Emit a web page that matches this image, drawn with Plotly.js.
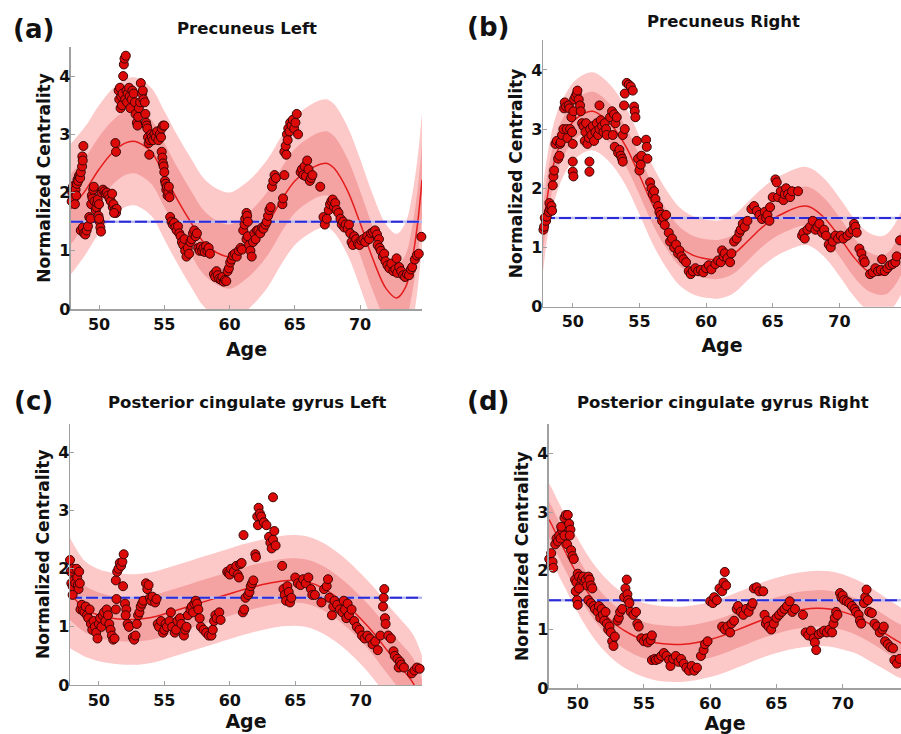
<!DOCTYPE html>
<html>
<head>
<meta charset="utf-8">
<script src="https://cdn.plot.ly/plotly-3.0.1.min.js"></script>
<style>html,body{margin:0;padding:0;background:#fff;}#chart{width:901px;height:734px;}</style>
</head>
<body>
<div id="chart"></div>
<script>
// ---------------- DATA ----------------
const panelLetters = ['(a)', '(b)', '(c)', '(d)'];
const panelTitles = ['Precuneus Left', 'Precuneus Right', 'Posterior cingulate gyrus Left', 'Posterior cingulate gyrus Right'];
const xTicks = [50, 55, 60, 65, 70];
const yTicks = [0, 1, 2, 3, 4];
const refLevel = 1.5;

// (a) Precuneus Left - fitted curve
const curveAgeA = [47.85, 48, 48.5, 49, 50, 51, 52, 52.6, 53, 54, 55, 56, 57, 58, 59, 60, 61, 62, 63, 64, 65, 66, 67, 67.5, 68, 69, 70, 71, 72, 72.8, 73.5, 74, 74.4, 74.75];
const meanA =     [1.72, 1.76, 1.9, 2.05, 2.4, 2.68, 2.85, 2.88, 2.86, 2.7, 2.3, 1.88, 1.5, 1.15, 0.97, 0.9, 1.02, 1.22, 1.5, 1.88, 2.2, 2.38, 2.49, 2.5, 2.42, 2.05, 1.48, 0.85, 0.35, 0.19, 0.38, 0.85, 1.45, 2.22];
const innerA =    [0.6, 0.6, 0.58, 0.57, 0.56, 0.55, 0.55, 0.55, 0.55, 0.55, 0.55, 0.55, 0.55, 0.55, 0.55, 0.55, 0.55, 0.55, 0.55, 0.55, 0.55, 0.55, 0.55, 0.55, 0.55, 0.55, 0.55, 0.55, 0.55, 0.55, 0.56, 0.57, 0.58, 0.6];
const outerA =    [1.12, 1.12, 1.11, 1.1, 1.1, 1.1, 1.1, 1.1, 1.1, 1.1, 1.1, 1.1, 1.1, 1.1, 1.1, 1.1, 1.1, 1.1, 1.1, 1.1, 1.1, 1.1, 1.1, 1.1, 1.1, 1.1, 1.1, 1.1, 1.1, 1.1, 1.11, 1.12, 1.13, 1.15];
const pointsA = [
 [47.9,1.85],[47.95,2.0],[48.0,2.1],[48.05,1.9],[48.1,2.12],[48.15,1.8],[48.2,2.05],[48.25,1.95],[48.3,2.15],[48.35,2.22],[48.4,2.2],[48.45,2.28],[48.5,2.3],[48.55,2.25],[48.6,2.35],[48.7,2.45],[48.72,2.62],[48.8,2.8],[48.75,2.55],
 [48.6,1.35],[48.75,1.4],[48.85,1.3],[48.95,1.28],[49.05,1.35],[49.15,1.42],[49.25,1.58],[49.35,1.55],
 [49.4,1.8],[49.45,1.95],[49.5,1.9],[49.55,2.05],[49.6,2.1],[49.65,1.85],[49.75,1.7],[49.8,1.75],[49.85,1.82],[49.9,1.88],[49.95,1.6],[50.05,1.5],[50.1,1.4],[50.15,1.33],[50.0,1.8],[50.0,1.55],
 [50.2,2.0],[50.3,2.05],[50.4,2.02],[50.5,1.98],[50.6,2.0],[50.7,1.95],[50.8,1.9],[50.9,1.85],[51.0,1.98],[51.05,1.75],[51.1,1.8],[51.2,1.7],[51.3,1.65],[51.35,1.72],[51.15,1.65],
 [51.25,2.85],[51.3,2.7],
 [51.5,3.75],[51.55,3.6],[51.6,3.8],[51.65,3.45],[51.7,3.65],[51.75,3.5],[51.8,3.7],[51.85,4.0],[51.9,4.2],[51.95,4.3],[52.05,4.35],[52.0,3.6],[52.1,3.75],[52.15,3.55],[52.2,3.7],[52.3,3.8],[52.35,3.65],[52.4,3.45],[52.5,3.6],[52.55,3.75],[52.65,3.7],[52.75,3.55],[52.8,3.35],[52.9,3.2],[52.95,3.15],[53.0,3.3],[53.05,3.45],[53.15,3.55],[53.2,3.88],[53.3,3.7],[53.35,3.75],[53.4,3.6],[53.5,3.55],[53.55,3.35],[53.6,3.2],[53.65,3.15],[53.7,3.1],[53.75,2.95],[53.8,2.85],[53.85,2.65],
 [53.9,2.9],[54.0,3.0],[54.05,2.95],[54.15,2.9],[54.25,3.0],[54.35,2.95],[54.45,3.05],[54.55,2.9],[54.65,3.0],[54.75,2.95],[54.8,3.1],[54.9,3.15],[55.0,3.15],
 [54.8,2.7],[54.85,2.6],[54.9,2.5],[54.95,2.45],[55.0,2.35],[55.05,2.2],[55.1,2.15],[55.15,2.05],[55.2,2.1],[55.25,1.95],[55.3,2.0],[55.35,2.1],[55.4,1.92],
 [55.45,1.58],[55.55,1.5],[55.65,1.45],[55.75,1.48],[55.85,1.4],[55.95,1.35],[56.05,1.42],[56.15,1.3],
 [56.25,1.25],[56.35,1.15],[56.45,1.1],[56.55,1.2],[56.6,1.0],[56.7,0.9],[56.8,1.05],[56.9,0.95],[57.0,1.15],[57.1,1.2],[57.2,1.3],
 [57.3,1.35],[57.4,1.25],[57.5,1.3],
 [57.6,1.05],[57.7,1.0],[57.8,1.07],[57.9,1.0],[58.0,1.05],[58.1,0.98],[58.2,1.08],[58.3,1.0],[58.4,1.05],[58.5,0.95],
 [58.8,0.6],[58.9,0.55],[59.0,0.65],[59.1,0.58],[59.2,0.52],
 [59.35,0.5],[59.45,0.55],[59.55,0.47],[59.65,0.5],[59.75,0.48],
 [59.85,0.65],[59.95,0.7],[60.05,0.8],[60.15,0.85],
 [60.25,0.92],[60.4,0.95],[60.55,0.9],[60.7,1.0],[60.85,1.05],[60.95,1.02],
 [61.05,1.35],[61.15,1.45],[61.2,1.55],[61.3,1.65],[61.35,1.6],[61.4,1.5],
 [61.3,1.2],[61.4,1.25],[61.5,1.1],[61.6,1.0],[61.7,0.9],[61.8,1.15],[61.9,1.3],[62.0,1.2],[62.1,1.35],
 [62.2,1.35],[62.35,1.3],[62.5,1.4],[62.6,1.38],[62.75,1.45],
 [62.85,1.5],[62.95,1.6],[63.05,1.7],[63.15,1.75],
 [63.25,2.1],[63.35,2.2],[63.45,2.3],[63.55,2.25],
 [64.05,1.8],[64.1,1.9],[64.2,2.3],
 [64.2,2.7],[64.3,2.8],[64.35,2.65],[64.4,3.0],[64.45,2.9],[64.5,3.1],[64.6,3.05],[64.65,3.2],[64.75,3.15],[64.85,3.25],[64.95,3.1],[65.05,3.2],[65.15,3.35],[65.25,3.0],
 [65.45,2.35],[65.55,2.4],[65.65,2.3],[65.75,2.45],[65.85,2.28],[65.95,2.55],[66.05,2.4],[66.15,2.2],[66.25,2.25],[66.35,2.3],
 [66.95,2.1],
 [67.2,1.58],[67.3,1.45],[67.45,1.55],
 [67.6,1.7],[67.7,1.8],[67.8,1.85],[67.9,1.88],[68.0,1.75],[68.1,1.82],[68.2,1.7],
 [68.35,1.65],[68.5,1.55],[68.6,1.45],[68.7,1.5],[68.8,1.4],[68.9,1.45],[69.05,1.38],[69.15,1.45],
 [69.25,1.3],[69.35,1.15],[69.45,1.1],[69.55,1.25],[69.7,1.2],[69.85,1.12],[69.95,1.1],
 [70.1,1.18],[70.25,1.2],[70.4,1.15],[70.55,1.25],[70.7,1.2],[70.85,1.3],[71.0,1.32],[71.15,1.35],[71.3,1.28],[71.45,1.2],
 [71.35,1.1],[71.5,1.05],[71.6,1.0],[71.75,0.9],[71.85,0.95],[71.95,0.82],
 [72.1,0.75],[72.25,0.7],[72.4,0.78],[72.55,0.65],[72.7,0.68],[72.85,0.62],[72.8,0.87],
 [73.0,0.72],[73.15,0.65],[73.3,0.58],[73.45,0.55],[73.6,0.6],[73.75,0.58],[73.9,0.68],[74.0,0.72],
 [74.2,0.85],[74.35,0.92],[74.5,0.95],[74.7,1.24]
];

// (b) Precuneus Right
const curveAgeB = [47.77, 48, 48.5, 49, 49.5, 50, 50.5, 51, 51.5, 52, 53, 54, 55, 56, 57, 58, 59, 60, 61, 62, 63, 64, 65, 66, 67, 67.5, 68, 69, 70, 71, 72, 73, 73.5, 74, 74.62];
const meanB =     [1.3, 1.72, 2.35, 2.72, 2.95, 3.12, 3.22, 3.28, 3.3, 3.25, 3.04, 2.7, 2.22, 1.72, 1.32, 1.02, 0.87, 0.81, 0.8, 0.88, 1.08, 1.3, 1.48, 1.6, 1.69, 1.7, 1.66, 1.47, 1.18, 0.86, 0.62, 0.53, 0.55, 0.66, 0.9];
const innerB =    [0.38, 0.36, 0.35, 0.34, 0.33, 0.33, 0.33, 0.33, 0.33, 0.33, 0.33, 0.33, 0.33, 0.33, 0.33, 0.33, 0.33, 0.33, 0.33, 0.33, 0.33, 0.33, 0.33, 0.33, 0.33, 0.33, 0.33, 0.33, 0.33, 0.33, 0.33, 0.33, 0.34, 0.35, 0.37];
const outerB =    [0.72, 0.7, 0.68, 0.67, 0.66, 0.66, 0.66, 0.66, 0.66, 0.66, 0.66, 0.66, 0.66, 0.66, 0.66, 0.66, 0.66, 0.66, 0.66, 0.66, 0.66, 0.66, 0.66, 0.66, 0.66, 0.66, 0.66, 0.66, 0.66, 0.66, 0.66, 0.66, 0.67, 0.68, 0.7];
const pointsB = [
 [47.8,1.3],[47.85,1.35],[47.9,1.5],[48.0,1.45],[48.05,1.52],
 [48.2,1.6],[48.3,1.65],[48.25,1.75],[48.4,1.7],[48.45,1.62],
 [48.5,2.05],[48.55,2.2],[48.6,2.3],
 [48.7,2.75],[48.8,2.8],[48.9,2.5],[49.0,2.55],[49.05,2.75],[49.1,2.78],
 [49.2,2.9],[49.3,3.0],[49.35,3.35],[49.4,3.45],[49.5,3.38],[49.55,3.0],[49.6,2.85],[49.7,3.4],[49.75,3.35],[49.8,3.0],[49.9,3.2],[49.95,2.95],[50.0,2.75],[50.05,3.3],
 [50.0,2.45],[50.0,2.28],[50.05,2.2],
 [50.1,3.5],[50.2,3.55],[50.3,3.6],[50.35,3.65],[50.45,3.5],[50.55,3.4],
 [50.6,3.3],[50.7,3.1],[50.8,3.05],[50.9,2.8],[50.95,2.95],[51.0,3.1],[51.1,2.75],[51.2,2.85],[51.3,3.0],
 [51.25,2.45],[51.25,2.28],
 [51.4,2.9],[51.5,3.05],[51.6,2.8],[51.7,2.95],[51.8,3.1],[51.9,2.9],[52.0,3.0],[52.1,3.15],[52.2,3.05],[52.3,2.95],[52.4,3.1],[52.5,3.0],[52.55,2.9],
 [52.0,3.4],
 [52.8,3.2],[52.95,3.3],[53.1,3.25],[53.2,3.1],[53.3,3.2],
 [53.0,2.9],[53.15,2.7],[53.4,2.6],[53.5,2.65],[53.6,2.55],[53.7,2.5],[53.75,2.45],
 [53.75,2.9],[53.9,3.0],
 [53.85,3.4],[53.9,3.6],[54.05,3.78],[54.2,3.75],[54.35,3.72],[54.5,3.65],[54.6,3.38],[54.65,3.3],[54.7,3.2],
 [54.8,2.8],[54.9,2.5],[55.0,2.3],[55.1,2.4],[55.15,2.55],
 [55.5,2.82],[55.55,2.7],[55.6,2.5],
 [55.8,2.1],[55.9,2.0],[56.0,1.9],[56.1,1.95],[56.2,1.82],
 [56.4,1.7],[56.5,1.6],[56.6,1.55],[56.7,1.45],[56.8,1.5],[56.9,1.38],[57.0,1.55],
 [57.2,1.25],[57.3,1.1],[57.45,1.15],[57.6,1.0],[57.75,1.05],[57.9,0.9],[58.0,0.95],[58.15,0.85],[58.3,0.8],
 [58.5,0.75],[58.7,0.6],[58.85,0.55],[59.0,0.6],
 [59.2,0.65],[59.4,0.6],[59.6,0.62],[59.8,0.58],[60.0,0.65],[60.2,0.7],[60.4,0.63],
 [60.7,0.72],[60.9,0.78],[61.1,0.75],[61.3,0.85],
 [61.2,0.95],[61.4,0.9],[61.6,0.82],[61.8,0.75],[61.9,0.9],
 [62.1,1.1],[62.3,1.15],[62.5,1.25],[62.6,1.3],[62.75,1.4],
 [62.9,1.35],[63.1,1.45],
 [63.4,1.65],[63.6,1.7],[63.8,1.62],
 [64.0,1.55],[64.2,1.48],[64.4,1.6],[64.5,1.5],[64.6,1.55],[64.75,1.45],[64.8,1.68],
 [65.0,1.85],[65.2,2.15],[65.3,2.1],[65.4,1.85],
 [65.6,1.95],[65.8,1.8],[65.9,1.9],[66.0,2.0],[66.15,1.9],[66.3,1.85],[66.45,1.95],
 [66.9,1.95],
 [67.2,1.2],[67.3,1.25],[67.4,1.15],
 [67.6,1.3],[67.8,1.35],[68.0,1.45],[68.2,1.3],[68.35,1.35],[68.5,1.4],[68.7,1.25],[68.85,1.3],[69.0,1.2],
 [69.2,1.05],[69.35,1.0],[69.5,1.1],
 [69.7,1.2],[69.9,1.15],[70.1,1.2],[70.3,1.15],
 [70.6,1.2],[70.8,1.25],[71.0,1.3],[71.1,1.4],[71.2,1.35],[71.3,1.25],
 [71.5,0.98],[71.65,0.9],[71.8,0.8],[71.9,0.75],
 [72.3,0.55],[72.5,0.58],[72.7,0.65],[72.9,0.6],[73.1,0.62],[73.2,0.8],
 [73.4,0.6],[73.6,0.65],[73.8,0.7],[74.0,0.72],[74.2,0.75],[74.3,0.85],
 [74.55,1.12]
];

// (c) Posterior cingulate gyrus Left
const curveAgeC = [47.8, 48.5, 49, 50, 51, 52, 53, 54, 55, 56, 57, 58, 59, 60, 61, 62, 63, 64, 65, 66, 67, 68, 69, 70, 71, 72, 73, 74, 74.7];
const meanC =     [1.58, 1.4, 1.3, 1.2, 1.15, 1.13, 1.13, 1.16, 1.22, 1.29, 1.36, 1.43, 1.5, 1.57, 1.64, 1.7, 1.75, 1.79, 1.8, 1.77, 1.68, 1.54, 1.36, 1.14, 0.89, 0.6, 0.32, 0.03, -0.38];
const innerC =    [0.46, 0.42, 0.4, 0.39, 0.38, 0.38, 0.38, 0.38, 0.38, 0.38, 0.38, 0.38, 0.38, 0.38, 0.38, 0.38, 0.38, 0.38, 0.38, 0.38, 0.38, 0.38, 0.38, 0.38, 0.39, 0.4, 0.41, 0.43, 0.45];
const outerC =    [0.95, 0.86, 0.82, 0.79, 0.78, 0.78, 0.78, 0.78, 0.78, 0.78, 0.78, 0.78, 0.78, 0.78, 0.78, 0.78, 0.78, 0.78, 0.78, 0.78, 0.78, 0.78, 0.78, 0.78, 0.79, 0.8, 0.82, 0.84, 0.87];
const pointsC = [
 [47.8,2.15],[47.85,1.95],[47.9,1.75],[48.0,1.7],[48.05,2.0],[48.1,1.8],[48.2,1.75],[48.3,2.0],[48.35,1.85],[48.4,1.72],[48.45,1.65],[48.5,1.95],[48.55,1.75],[48.0,1.55],
 [48.6,1.3],[48.7,1.38],[48.8,1.28],[48.9,1.25],[49.0,1.35],[49.1,1.2],[49.2,1.15],[49.3,1.3],[49.4,1.05],[49.5,0.95],[49.6,1.1],[49.7,1.0],[49.8,0.9],
 [49.9,0.8],[50.0,1.05],[50.1,1.15],[50.2,1.0],[50.3,1.2],[50.4,1.25],[50.5,1.1],[50.6,1.3],[50.7,1.2],[50.8,1.05],[50.9,0.95],[51.0,0.85],[51.1,0.78],[51.2,0.8],
 [51.3,1.8],[51.4,1.95],[51.5,2.0],[51.6,2.1],[51.7,2.05],[51.8,2.12],[51.9,2.25],[51.85,1.7],[51.3,1.3],[51.35,1.48],
 [52.0,1.4],[52.1,1.3],[52.2,1.05],[52.3,1.0],[52.05,1.2],
 [52.6,0.82],[52.7,0.78],[52.8,0.85],
 [52.9,1.05],[53.0,1.2],[53.1,1.25],[53.2,1.35],[53.3,1.4],[53.4,1.45],
 [53.6,1.75],[53.7,1.65],[53.8,1.72],
 [53.9,1.5],[54.0,1.45],[54.1,1.52],[54.3,1.42],[54.4,1.48],
 [54.5,1.05],[54.6,1.0],[54.75,1.1],[54.9,0.9],[55.0,0.95],[55.1,1.05],[55.2,1.0],[55.4,1.1],[55.5,1.25],[55.6,1.0],
 [55.8,0.9],[55.9,0.95],[56.0,1.1],[56.2,1.15],[56.3,1.05],[56.5,0.85],[56.6,0.95],[56.7,1.0],
 [56.8,1.2],[57.0,1.3],[57.1,1.35],[57.2,1.25],[57.3,1.4],[57.4,1.45],[57.5,1.4],[57.6,1.3],
 [57.7,1.15],[57.8,1.0],[58.0,0.95],[58.2,0.9],[58.4,0.85],[58.6,0.85],[58.7,0.95],
 [58.8,1.1],[58.9,1.2],[59.0,1.15],[59.2,1.25],[59.3,1.12],
 [59.8,1.95],[59.9,1.92],[60.0,1.9],[60.1,2.0],
 [60.3,1.95],[60.5,2.05],[60.6,1.9],[60.7,1.85],[60.8,2.08],[60.9,2.1],
 [61.05,2.58],
 [61.0,1.25],[61.1,1.3],[61.2,1.5],
 [61.4,1.55],[61.5,1.6],[61.6,1.7],[61.7,1.75],[61.8,1.8],
 [61.95,2.25],[62.0,2.2],
 [62.1,2.9],[62.2,3.05],[62.3,2.95],[62.15,2.75],[62.4,2.9],
 [62.6,2.8],[62.8,2.75],[63.0,2.55],[63.1,2.45],[63.2,2.35],[63.3,2.5],[63.4,2.65],[63.5,2.4],
 [63.3,3.23],
 [64.0,2.05],
 [64.1,1.65],[64.2,1.55],[64.3,1.45],[64.4,1.7],[64.5,1.6],[64.6,1.42],[64.7,1.5],
 [65.0,1.85],[65.2,1.75],[65.4,1.72],[65.6,1.82],[65.8,1.75],[66.0,1.85],[66.2,1.65],
 [66.3,1.55],[66.5,1.55],
 [67.0,1.42],[67.2,1.65],[67.4,1.7],[67.5,1.82],[67.6,1.5],
 [67.8,1.2],[67.9,1.35],[68.0,1.45],[68.2,1.38],[68.4,1.3],
 [68.6,1.25],[68.7,1.45],[68.8,1.3],[68.9,1.15],[69.0,1.4],[69.1,1.2],[69.3,1.3],[69.5,1.1],[69.7,1.0],
 [69.9,0.95],[70.1,0.85],[70.3,0.8],[70.5,0.85],[70.7,0.8],
 [70.9,0.7],[71.1,0.75],[71.3,0.6],[71.5,0.85],
 [71.7,1.35],[71.8,1.65],[71.85,1.15],[71.9,1.05],[71.75,1.5],
 [72.1,0.85],[72.3,0.8],
 [72.5,0.58],[72.6,0.5],[72.8,0.45],[73.0,0.4],
 [72.9,0.3],[73.1,0.35],[73.3,0.3],
 [73.9,0.2],[74.1,0.25],[74.3,0.3],[74.5,0.28],[74.7,0.25]
];

// (d) Posterior cingulate gyrus Right
const curveAgeD = [47.83, 48, 48.5, 49, 50, 51, 52, 53, 54, 55, 56, 57, 58, 59, 60, 61, 62, 63, 64, 65, 66, 67, 68, 69, 70, 71, 72, 73, 74, 74.4];
const meanD =     [2.87, 2.8, 2.57, 2.35, 1.92, 1.55, 1.27, 1.06, 0.92, 0.82, 0.77, 0.75, 0.75, 0.78, 0.83, 0.9, 0.99, 1.08, 1.17, 1.24, 1.3, 1.34, 1.36, 1.35, 1.3, 1.22, 1.1, 0.96, 0.82, 0.77];
const innerD =    [0.31, 0.31, 0.31, 0.31, 0.31, 0.31, 0.31, 0.31, 0.31, 0.31, 0.31, 0.31, 0.31, 0.31, 0.31, 0.31, 0.31, 0.31, 0.31, 0.31, 0.31, 0.31, 0.31, 0.31, 0.31, 0.31, 0.31, 0.31, 0.31, 0.31];
const outerD =    [0.62, 0.62, 0.62, 0.62, 0.63, 0.63, 0.63, 0.63, 0.63, 0.63, 0.64, 0.64, 0.64, 0.64, 0.64, 0.64, 0.64, 0.64, 0.64, 0.64, 0.64, 0.64, 0.64, 0.64, 0.64, 0.63, 0.63, 0.62, 0.61, 0.6];
const pointsD = [
 [47.8,2.35],[47.85,2.2],[47.95,2.1],[48.0,2.3],[48.1,2.15],[48.15,2.05],
 [48.3,2.45],[48.4,2.55],[48.5,2.5],[48.6,2.6],[48.7,2.55],[48.8,2.7],[48.9,2.75],[49.0,2.6],[48.75,2.75],
 [49.0,2.9],[49.1,2.95],[49.25,2.95],[49.35,2.8],[49.45,2.7],
 [49.2,2.45],[49.4,2.6],
 [49.5,2.35],[49.6,2.25],[49.7,2.2],
 [49.8,1.85],[49.9,1.8],[50.0,1.95],[50.1,1.9],[50.2,1.75],[50.3,1.85],[50.4,1.9],[50.5,1.8],[50.6,1.85],[50.7,1.75],
 [49.85,1.65],[49.95,1.5],[50.0,1.42],[50.1,1.7],
 [50.8,1.9],[50.9,1.85],[51.0,1.75],[51.1,1.7],
 [50.8,1.5],[51.0,1.45],[51.2,1.4],[51.3,1.35],
 [51.5,1.3],[51.6,1.4],[51.7,1.2],[51.8,1.35],[51.9,1.25],[52.0,1.15],[52.1,1.3],
 [52.2,1.1],[52.3,1.0],[52.4,1.05],[52.5,0.95],
 [52.6,0.8],[52.7,0.72],[52.8,0.88],
 [53.0,1.15],[53.1,1.2],[53.2,1.3],[53.35,1.35],
 [53.5,1.55],[53.6,1.7],[53.7,1.85],[53.75,1.6],[53.8,1.5],
 [53.9,1.45],[54.0,1.3],[54.2,1.25],
 [54.4,1.3],[54.5,1.1],[54.6,1.05],
 [54.8,0.85],[55.0,0.8],[55.2,0.85],[55.3,0.78],[55.5,0.82],[55.6,0.9],
 [55.6,0.48],[55.8,0.5],
 [55.9,0.48],[56.1,0.5],[56.3,0.55],[56.5,0.6],[56.7,0.55],[56.9,0.48],[57.0,0.38],[57.2,0.5],[57.4,0.55],[57.6,0.45],[57.8,0.5],[58.0,0.42],
 [58.2,0.35],[58.4,0.3],[58.6,0.38],[58.8,0.3],[59.0,0.35],
 [59.3,0.55],[59.5,0.65],[59.6,0.75],[59.8,0.8],
 [60.0,1.48],[60.2,1.45],[60.3,1.55],[60.5,1.5],
 [60.7,1.7],[60.9,1.65],[61.0,1.8],[61.1,1.98],[61.2,1.75],
 [60.9,1.05],[61.1,1.0],[61.3,1.05],[61.5,0.95],[61.6,1.1],
 [61.8,1.15],[62.0,1.35],[62.1,1.4],[62.3,1.3],[62.5,1.25],
 [62.7,1.35],[62.9,1.3],[63.1,1.4],[63.2,1.45],
 [63.3,1.7],[63.5,1.72],[63.7,1.65],[64.0,1.65],
 [64.1,1.25],[64.2,1.1],[64.3,1.15],[64.4,1.05],[64.6,1.0],
 [64.8,1.1],[65.0,1.2],[65.2,1.25],[65.4,1.3],
 [65.6,1.35],[65.8,1.4],[66.0,1.48],[66.2,1.3],[66.4,1.35],
 [67.0,1.25],
 [67.2,0.95],[67.4,0.9],[67.6,0.98],[67.8,0.85],[67.9,0.78],[68.0,0.65],[68.2,0.92],
 [68.4,0.95],[68.6,0.98],[68.8,0.95],[69.0,1.0],[69.2,0.95],
 [69.3,1.1],[69.4,1.2],[69.5,1.3],[69.6,1.25],
 [69.8,1.62],[69.9,1.55],[70.0,1.58],[70.1,1.5],[70.3,1.48],
 [70.5,1.45],[70.7,1.4],[70.9,1.35],[71.0,1.3],[71.2,1.25],[71.3,1.15],[71.4,1.1],
 [71.6,1.45],[71.7,1.55],[71.8,1.68],[71.9,1.5],
 [72.0,1.3],[72.2,1.28],
 [72.4,1.1],[72.6,1.05],[72.8,0.95],[73.0,1.0],[73.1,1.05],
 [73.2,0.8],[73.4,0.75],[73.6,0.7],[73.8,0.68],
 [73.9,0.48],[74.1,0.42],[74.3,0.5]
];

// ---------------- STYLE / LAYOUT ----------------
const FONT = '"DejaVu Sans", Verdana, sans-serif';
const panels = [
  {id:'', curveAge:curveAgeA, mean:meanA, inner:innerA, outer:outerA, pts:pointsA,
   xdom:[0.0788,0.4684], ydom:[0.579,0.936], xr:[47.85,74.75], xs:10, ys:4},
  {id:'2', curveAge:curveAgeB, mean:meanB, inner:innerB, outer:outerB, pts:pointsB,
   xdom:[0.6027,1.0], ydom:[0.5822,0.9451], xr:[47.77,74.62], xs:8, ys:4},
  {id:'3', curveAge:curveAgeC, mean:meanC, inner:innerC, outer:outerC, pts:pointsC,
   xdom:[0.0777,0.4684], ydom:[0.0668,0.423], xr:[47.8,74.68], xs:4, ys:4},
  {id:'4', curveAge:curveAgeD, mean:meanD, inner:innerD, outer:outerD, pts:pointsD,
   xdom:[0.6093,1.0], ydom:[0.0623,0.4225], xr:[47.83,74.4], xs:2, ys:4}
];

const traces = [];
const layout = {
  width: 901, height: 734,
  margin: {l:0, r:0, t:0, b:0},
  paper_bgcolor: '#ffffff', plot_bgcolor: '#ffffff',
  showlegend: false,
  font: {family: FONT, color: '#111'},
  annotations: []
};

const axisCol = '#a0a0a0';
panels.forEach((p, k) => {
  const xa = 'x' + p.id, ya = 'y' + p.id;
  const lo = (arr) => p.mean.map((m, i) => m - arr[i]);
  const hi = (arr) => p.mean.map((m, i) => m + arr[i]);
  const base = {xaxis: xa, yaxis: ya, hoverinfo: 'skip', mode: 'lines'};
  traces.push(Object.assign({}, base, {x: p.curveAge, y: lo(p.outer), line: {width: 0, shape: 'spline'}}));
  traces.push(Object.assign({}, base, {x: p.curveAge, y: hi(p.outer), line: {width: 0, shape: 'spline'}, fill: 'tonexty', fillcolor: '#fcc8c8'}));
  traces.push(Object.assign({}, base, {x: p.curveAge, y: lo(p.inner), line: {width: 0, shape: 'spline'}}));
  traces.push(Object.assign({}, base, {x: p.curveAge, y: hi(p.inner), line: {width: 0, shape: 'spline'}, fill: 'tonexty', fillcolor: '#f5a2a2'}));
  traces.push(Object.assign({}, base, {x: p.curveAge, y: p.mean, line: {width: 1.5, color: '#e51c1c', shape: 'spline'}}));
  traces.push(Object.assign({}, base, {x: p.xr, y: [refLevel, refLevel], line: {width: 2.5, color: '#b9b9f2'}}));
  traces.push(Object.assign({}, base, {x: p.xr, y: [refLevel, refLevel], line: {width: 2, color: '#2a2ad8', dash: '12px,4px'}}));
  traces.push({xaxis: xa, yaxis: ya, mode: 'markers', hoverinfo: 'skip', cliponaxis: false,
    x: p.pts.map(d => d[0]), y: p.pts.map(d => d[1]),
    marker: {size: 9, color: '#dd0a0a', line: {width: 1, color: '#3a0505'}}});

  const axKey = k === 0 ? '' : String(k + 1);
  layout['xaxis' + axKey] = {
    domain: p.xdom, range: p.xr, anchor: ya, tickvals: xTicks, ticktext: xTicks.map(String),
    ticks: 'inside', ticklen: 4, tickwidth: 1, tickcolor: axisCol,
    showline: true, linecolor: axisCol, linewidth: 1.5, showgrid: false, zeroline: false,
    tickfont: {family: FONT, size: 16, weight: 'bold', color: '#111'},
    title: {text: 'Age', font: {family: FONT, size: 19, weight: 'bold', color: '#111'}, standoff: p.xs},
    fixedrange: true
  };
  layout['yaxis' + axKey] = {
    domain: p.ydom, range: [0, 4.5], anchor: xa, tickvals: yTicks, ticktext: yTicks.map(String),
    ticks: 'inside', ticklen: 4, tickwidth: 1, tickcolor: axisCol, ticklabelstandoff: -4,
    showline: true, linecolor: axisCol, linewidth: 1.5, showgrid: false, zeroline: false,
    tickfont: {family: FONT, size: 16, weight: 'bold', color: '#111'},
    title: {text: 'Normalized Centrality', font: {family: FONT, size: 17, weight: 'bold', color: '#111'}, standoff: p.ys},
    fixedrange: true
  };
});

// panel letters and titles
const letterPos = [[33, 29], [488, 27], [33, 401], [488, 401]];
const titlePos = [[247, 28], [723, 21], [247, 403], [723, 403]];
panels.forEach((p, k) => {
  layout.annotations.push({xref: 'paper', yref: 'paper', x: letterPos[k][0] / 901, y: 1 - letterPos[k][1] / 734,
    xanchor: 'center', yanchor: 'middle', showarrow: false, text: panelLetters[k],
    font: {family: FONT, size: 26, weight: 'bold', color: '#111'}});
  layout.annotations.push({xref: 'paper', yref: 'paper', x: titlePos[k][0] / 901, y: 1 - titlePos[k][1] / 734,
    xanchor: 'center', yanchor: 'middle', showarrow: false, text: panelTitles[k],
    font: {family: FONT, size: 16.5, weight: 'bold', color: '#111'}});
});

Plotly.newPlot('chart', traces, layout, {staticPlot: true, displayModeBar: false});
</script>
</body>
</html>
